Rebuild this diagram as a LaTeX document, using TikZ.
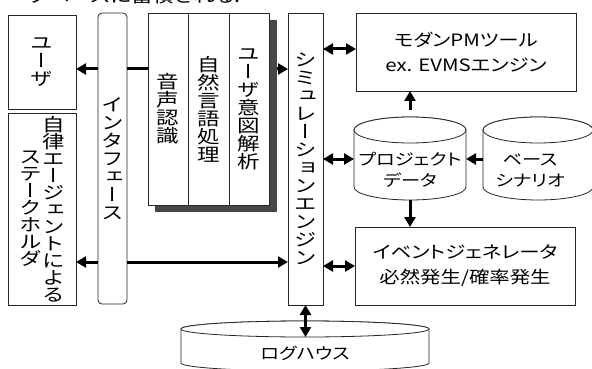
\documentclass[tikz,border=0pt]{standalone}
\usepackage{fontspec}
\setmainfont{Noto Sans CJK JP}[FakeStretch=1.2,RawFeature={+palt}]
\newfontfamily\vjp{Noto Sans CJK JP}[FakeStretch=1.25,RawFeature={+vert}]
\usetikzlibrary{arrows.meta}
\def\vtloop#1{\ifx\relax#1\else\hbox to 22.5pt{\hss#1\hss}\expandafter\vtloop\fi}
\newcommand\vtc[2][18pt]{\mbox{$\vcenter{\vjp\fontsize{18}{18}\selectfont\baselineskip=#1\lineskip=0pt\lineskiplimit=-20pt\vtloop#2\relax}$}}
\tikzset{
  bx/.style={draw=black!85, line width=0.8pt, fill=white, inner sep=0pt, outer sep=0pt},
  arr/.style={line width=3pt, -{Triangle[length=10pt,width=11pt]}},
  darr/.style={line width=3pt, {Triangle[length=10pt,width=11pt]}-{Triangle[length=10pt,width=11pt]}},
  ln/.style={line width=3pt},
  htxt/.style={font=\fontsize{17}{25}\selectfont, align=center},
  ctxt/.style={font=\fontsize{16}{21}\selectfont, align=center, inner sep=0pt},
  cyl/.style={draw=black!85, line width=0.8pt, fill=white},
  area/.style={inner sep=0pt, outer sep=0pt},
}
\begin{document}
\begin{tikzpicture}[x=1pt,y=-1pt]
\useasboundingbox (0,0) rectangle (592,369);
\fill[white] (0,0) rectangle (592,369);
% clipped caption fragment at the top
\node[anchor=base west, inner sep=0pt, font=\fontsize{18}{18}\selectfont] (note) at (110,3) {\llap{データベース}に蓄積される.};
% rows for connectors
\coordinate (rA) at (0,69);
\coordinate (rB) at (0,262);
\coordinate (rM) at (0,49);
\coordinate (rP) at (0,159);
\coordinate (rE) at (0,266);
% left column
\node[bx, minimum width=68pt, minimum height=94pt] (user) at (42,62) {\vtc{ユーザ}};
\node[bx, minimum width=68pt, minimum height=192pt] (agent) at (42,209) {\vtc[17pt]{ステークホルダ}\vtc[17pt]{自律エージェントによる}};
\node[bx, rounded corners=4pt, minimum width=29pt, minimum height=291pt] (iface) at (112.5,158.5) {\vtc{インタフェース}};
% language processing block with shadow
\node[fill=black!72, inner sep=0pt, minimum width=122pt, minimum height=192pt] (shd) at (216,116) {};
\node[bx, minimum width=40pt, minimum height=192pt] (speech) at (168,109) {\vtc{音声認識}};
\node[bx, minimum width=41pt, minimum height=192pt] (nlp) at (208.5,109) {\vtc{自然言語処理}};
\node[bx, minimum width=40pt, minimum height=192pt] (intent) at (249,109) {\vtc{ユーザ意図解析}};
% simulation engine
\node[bx, minimum width=35pt, minimum height=292pt] (sim) at (305.5,159) {\vtc{シミュレーションエンジン}};
% right boxes
\node[bx, htxt, minimum width=220pt, minimum height=78pt] (modern) at (466,52) {モダンPMツール\\ex. EVMSエンジン};
\node[bx, htxt, minimum width=220pt, minimum height=78pt] (event) at (465,266) {イベントジェネレータ\\必然発生/確率発生};
% cylinders
\node[area, minimum width=112pt, minimum height=83pt] (proj) at (410,158.5) {};
\draw[cyl] ([yshift=-13pt]proj.north west) -- ([yshift=13pt]proj.south west)
  arc[start angle=180, end angle=0, x radius=56, y radius=13]
  -- ([yshift=-13pt]proj.north east)
  arc[start angle=0, end angle=-180, x radius=56, y radius=13] -- cycle;
\draw[cyl] ([yshift=-13pt]proj.north) ellipse[x radius=56, y radius=13];
\node[ctxt] (projlabel) at ([yshift=-11.5pt]proj.center) {プロジェクト\\データ};

\node[area, minimum width=110pt, minimum height=83pt] (base) at (538,158.5) {};
\draw[cyl] ([yshift=-13pt]base.north west) -- ([yshift=13pt]base.south west)
  arc[start angle=180, end angle=0, x radius=55, y radius=13]
  -- ([yshift=-13pt]base.north east)
  arc[start angle=0, end angle=-180, x radius=55, y radius=13] -- cycle;
\draw[cyl] ([yshift=-13pt]base.north) ellipse[x radius=55, y radius=13];
\node[ctxt] (baselabel) at ([xshift=-8pt,yshift=-11.5pt]base.center) {ベース\\シナリオ};

\node[area, minimum width=248pt, minimum height=50pt] (log) at (305,346) {};
\draw[cyl] ([yshift=-8pt]log.north west) -- ([yshift=8pt]log.south west)
  arc[start angle=180, end angle=0, x radius=124, y radius=8]
  -- ([yshift=-8pt]log.north east)
  arc[start angle=0, end angle=-180, x radius=124, y radius=8] -- cycle;
\draw[cyl] ([yshift=-8pt]log.north) ellipse[x radius=124, y radius=8];
\node[ctxt] (loglabel) at (log.center |- 0,353) {ログハウス};
\coordinate (logfront) at ([yshift=-16pt]log.north);
% connectors
\draw[arr] (iface.west |- rA) -- (user.east |- rA);
\draw[ln] (iface.east |- rA) -- (speech.west |- rA);
\draw[arr] (shd.east |- rA) -- (sim.west |- rA);
\draw[arr] (iface.west |- rB) -- (agent.east |- rB);
\draw[arr] (iface.east |- rB) -- (sim.west |- rB);
\draw[darr] (sim.east |- rM) -- (modern.west |- rM);
\draw[darr] (sim.east |- rP) -- (proj.west |- rP);
\draw[darr] (sim.east |- rE) -- (event.west |- rE);
\draw[arr] (base.west |- rP) -- (proj.east |- rP);
\draw[arr] ([yshift=7pt]proj.north) -- (modern.south -| proj.north);
\draw[arr] (proj.south) -- (event.north -| proj.south);
\draw[darr] (sim.south) -- (sim.south |- logfront);
\end{tikzpicture}
\end{document}
